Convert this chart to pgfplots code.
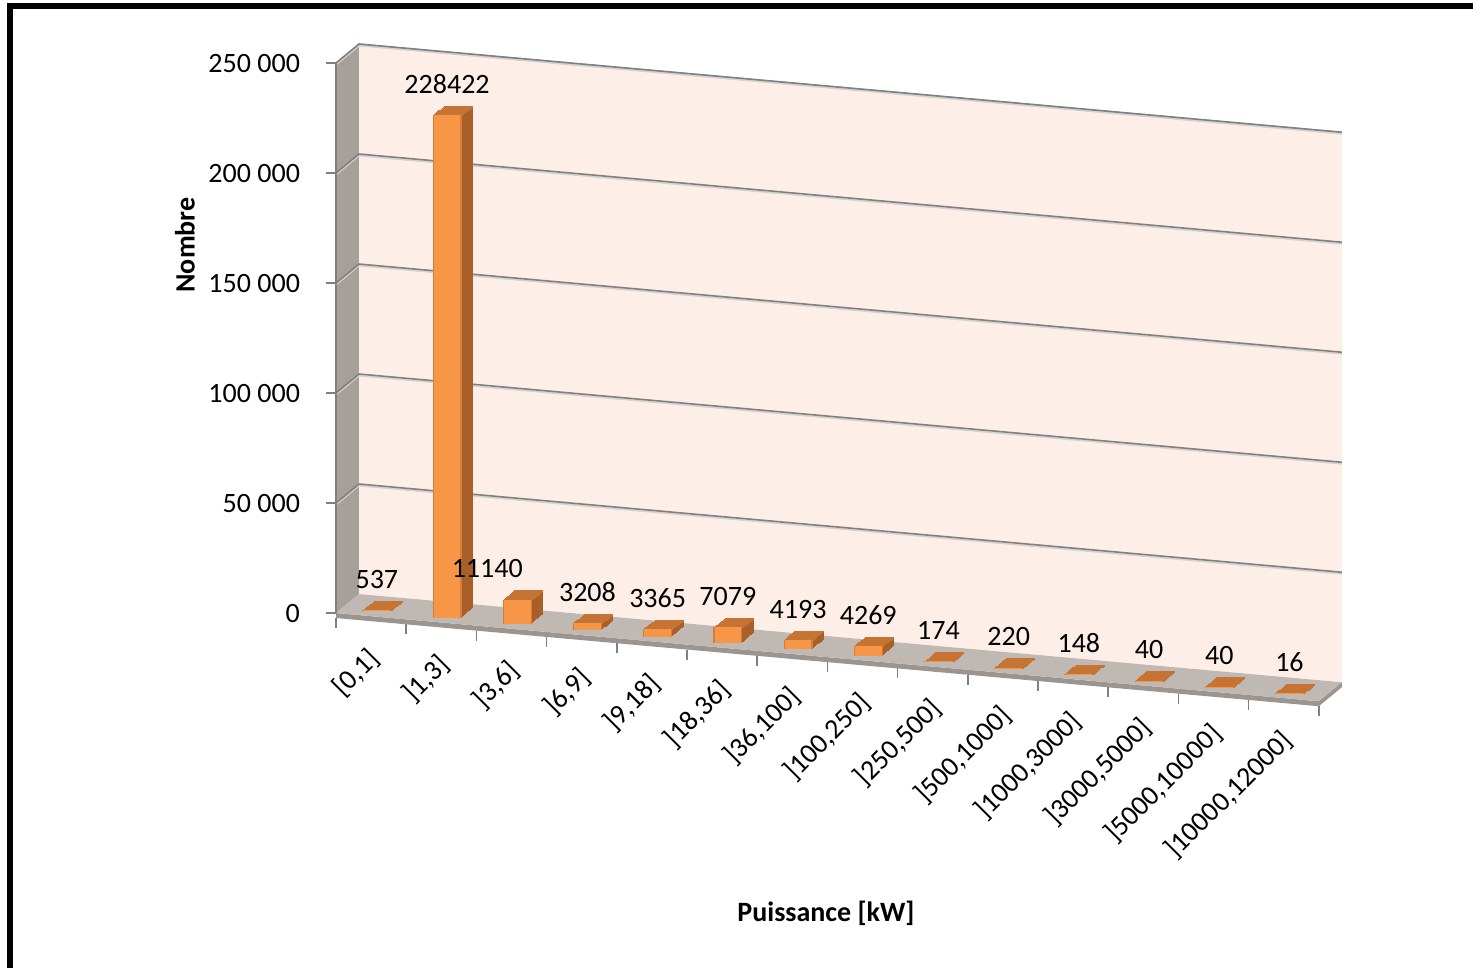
\documentclass[border=0pt]{standalone}
\usepackage{pgfplots}
\pgfplotsset{compat=1.18}
\usepackage{pgfplotstable}
\usepackage{fontspec}
\setmainfont{Carlito}
\definecolor{wallc}{RGB}{253,239,231}
\definecolor{sidec}{RGB}{166,159,154}
\definecolor{floorc}{RGB}{191,184,179}
\definecolor{floore}{RGB}{155,148,143}
\definecolor{barf}{RGB}{247,150,70}
\definecolor{barside}{RGB}{168,96,40}
\definecolor{bartop}{RGB}{198,116,52}
\definecolor{barline}{RGB}{214,124,56}
\definecolor{gridc}{RGB}{128,128,128}

\pgfplotstableread{
x n lab dx
0 537 537 0
1 228422 228422 0
2 11140 11140 -15
3 3208 3208 0
4 3365 3365 0
5 7079 7079 0
6 4193 4193 0
7 4269 4269 0
8 174 174 0
9 220 220 0
10 148 148 0
11 40 40 0
12 40 40 0
13 16 16 0
}\data

\begin{document}
\begin{tikzpicture}[font=\fontsize{14}{16}\selectfont]
\useasboundingbox (0,0) rectangle (736.5pt,484pt);
\draw[line width=2.8pt] (5pt,0) -- (5pt,480.9pt) -- (736.5pt,480.9pt);
\begin{axis}[
  at={(185.55pt,175.9pt)}, anchor=origin,
  x={(35.1pt,-3.15pt)}, y={(11.5pt,9.5pt)}, z={(0pt,0.0011pt)},
  xmin=-0.5, xmax=13.5, ymin=0, ymax=1, zmin=0, zmax=250000,
  hide axis, clip=false,
]
% walls
\fill[sidec] (axis cs:-0.5,0,0) -- (axis cs:-0.5,1,0) -- (axis cs:-0.5,1,250000) -- (axis cs:-0.5,0,250000) -- cycle;
\fill[wallc] (axis cs:-0.5,1,0) -- (axis cs:13.5,1,0) -- (axis cs:13.5,1,250000) -- (axis cs:-0.5,1,250000) -- cycle;
\draw[gridc!60, line width=0.6pt] (axis cs:-0.5,0,250000) -- (axis cs:-0.5,1,250000) -- (axis cs:13.5,1,250000);
\pgfplotsinvokeforeach{50000,100000,150000,200000,250000}{
  \draw[gridc!35, line width=0.8pt] ([yshift=-0.8pt]axis cs:-0.5,0,#1) -- ([yshift=-0.8pt]axis cs:-0.5,1,#1) -- ([yshift=-0.8pt]axis cs:13.5,1,#1);
  \draw[gridc, line width=0.8pt] (axis cs:-0.5,0,#1) -- (axis cs:-0.5,1,#1) -- (axis cs:13.5,1,#1);
}
% floor
\fill[floore] (axis cs:-0.5,0,0) -- (axis cs:13.5,0,0) -- (axis cs:13.5,1,0) -- ([yshift=-2.5pt]axis cs:13.5,1,0) -- ([yshift=-2.5pt]axis cs:13.5,0,0) -- ([yshift=-2.5pt]axis cs:-0.5,0,0) -- cycle;
\fill[floorc] (axis cs:-0.5,0,0) -- (axis cs:13.5,0,0) -- (axis cs:13.5,1,0) -- (axis cs:-0.5,1,0) -- cycle;
\pgfplotsinvokeforeach{-0.5,0.5,1.5,2.5,3.5,4.5,5.5,6.5,7.5,8.5,9.5,10.5,11.5,12.5,13.5}{
  \draw[gridc, line width=0.8pt] ([yshift=-2.5pt]axis cs:#1,0,0) -- ([yshift=-7.5pt]axis cs:#1,0,0);
}
% vertical axis
\draw[gridc, line width=0.8pt] (axis cs:-0.5,0,0) -- (axis cs:-0.5,0,250000);
\pgfplotsinvokeforeach{0,50000,100000,150000,200000,250000}{
  \draw[gridc, line width=0.8pt] ([xshift=-5pt]axis cs:-0.5,0,#1) -- (axis cs:-0.5,0,#1);
}
\node[anchor=east] at ([xshift=-14.5pt]axis cs:-0.5,0,0) {0};
\node[anchor=east] at ([xshift=-14.5pt]axis cs:-0.5,0,50000) {50 000};
\node[anchor=east] at ([xshift=-14.5pt]axis cs:-0.5,0,100000) {100 000};
\node[anchor=east] at ([xshift=-14.5pt]axis cs:-0.5,0,150000) {150 000};
\node[anchor=east] at ([xshift=-14.5pt]axis cs:-0.5,0,200000) {200 000};
\node[anchor=east] at ([xshift=-14.5pt]axis cs:-0.5,0,250000) {250 000};
% bars: stacked darker copies (side + top cap) then the front face
\pgfplotsinvokeforeach{0.75,0.70,0.65,0.60,0.55,0.50,0.45,0.40,0.35,0.30}{
  \addplot3[barside, line width=14.5pt, quiver={u=0,v=0,w=\thisrow{n}}]
    table[x=x, y expr=#1, z expr=0] {\data};
  \addplot3[bartop, line width=14.5pt, quiver={u=0,v=0,w=-900}]
    table[x=x, y expr=#1, z=n] {\data};
}
\addplot3[barline, line width=14.5pt, quiver={u=0,v=0,w=\thisrow{n}}]
  table[x=x, y expr=0.25, z expr=0] {\data};
\addplot3[barf, line width=13.3pt, quiver={u=0,v=0,w=\thisrow{n}}]
  table[x=x, y expr=0.25, z expr=0] {\data};
% data labels
\addplot3[draw=none, nodes near coords, point meta=explicit symbolic,
  visualization depends on={\thisrow{dx} \as \dx},
  every node near coord/.append style={anchor=base, yshift=11pt, xshift=\dx pt,
    inner sep=0pt, text=black, font=\fontsize{14}{16}\selectfont}]
  table[x=x, y expr=0.25, z=n, meta=lab] {\data};
% category labels
\node[rotate=45, anchor=east, inner sep=0pt] at ([xshift=2pt,yshift=-19pt]axis cs:0,0,0) {[0,1]};
\node[rotate=45, anchor=east, inner sep=0pt] at ([xshift=2pt,yshift=-19pt]axis cs:1,0,0) {]1,3]};
\node[rotate=45, anchor=east, inner sep=0pt] at ([xshift=2pt,yshift=-19pt]axis cs:2,0,0) {]3,6]};
\node[rotate=45, anchor=east, inner sep=0pt] at ([xshift=2pt,yshift=-19pt]axis cs:3,0,0) {]6,9]};
\node[rotate=45, anchor=east, inner sep=0pt] at ([xshift=2pt,yshift=-19pt]axis cs:4,0,0) {]9,18]};
\node[rotate=45, anchor=east, inner sep=0pt] at ([xshift=2pt,yshift=-19pt]axis cs:5,0,0) {]18,36]};
\node[rotate=45, anchor=east, inner sep=0pt] at ([xshift=2pt,yshift=-19pt]axis cs:6,0,0) {]36,100]};
\node[rotate=45, anchor=east, inner sep=0pt] at ([xshift=2pt,yshift=-19pt]axis cs:7,0,0) {]100,250]};
\node[rotate=45, anchor=east, inner sep=0pt] at ([xshift=2pt,yshift=-19pt]axis cs:8,0,0) {]250,500]};
\node[rotate=45, anchor=east, inner sep=0pt] at ([xshift=2pt,yshift=-19pt]axis cs:9,0,0) {]500,1000]};
\node[rotate=45, anchor=east, inner sep=0pt] at ([xshift=2pt,yshift=-19pt]axis cs:10,0,0) {]1000,3000]};
\node[rotate=45, anchor=east, inner sep=0pt] at ([xshift=2pt,yshift=-19pt]axis cs:11,0,0) {]3000,5000]};
\node[rotate=45, anchor=east, inner sep=0pt] at ([xshift=2pt,yshift=-19pt]axis cs:12,0,0) {]5000,10000]};
\node[rotate=45, anchor=east, inner sep=0pt] at ([xshift=2pt,yshift=-19pt]axis cs:13,0,0) {]10000,12000]};
\end{axis}
\node[rotate=90, font=\bfseries\fontsize{14}{16}\selectfont] at (92.5pt,361.5pt) {Nombre};
\node[font=\bfseries\fontsize{14}{16}\selectfont] at (413pt,27.5pt) {Puissance [kW]};
\end{tikzpicture}
\end{document}
